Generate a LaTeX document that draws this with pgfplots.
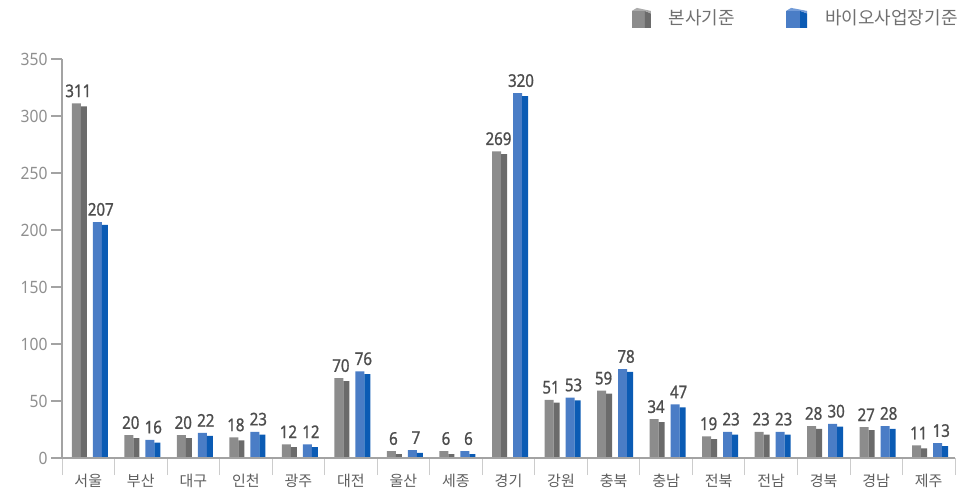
\documentclass[border=0pt]{standalone}
\usepackage{pgfplots}
\usepackage{pgfplotstable}
\pgfplotsset{compat=1.18}
\usepackage{fontspec}
\setmainfont{Noto Sans}
\newfontfamily\kr{Noto Sans CJK KR}
\newfontfamily\numf[FakeStretch=0.92]{Noto Sans}
\newfontfamily\valf[FakeStretch=0.86, FakeBold=1]{Noto Sans}

\definecolor{gfront}{HTML}{8C8C8C}
\definecolor{gside}{HTML}{6B6B6B}
\definecolor{gtop}{HTML}{ABABAB}
\definecolor{bfront}{HTML}{4A7DC6}
\definecolor{bside}{HTML}{0B5BB4}
\definecolor{btop}{HTML}{739CD8}
\definecolor{axisgray}{HTML}{A3A3A3}
\definecolor{tickgray}{HTML}{8F8F8F}
\definecolor{catgray}{HTML}{5E5E5E}
\definecolor{valgray}{HTML}{4D4D4D}
\definecolor{leggray}{HTML}{707070}

\pgfplotstableread{
x g b
0 311 207
1 20 16
2 20 22
3 18 23
4 12 12
5 70 76
6 6 7
7 6 6
8 269 320
9 51 53
10 59 78
11 34 47
12 19 23
13 23 23
14 28 30
15 27 28
16 11 13
}\datatable

\begin{document}
\begin{tikzpicture}
\path[use as bounding box] (-62pt,-33pt) rectangle (898pt,458pt);
\begin{axis}[
  at={(0pt,0pt)}, anchor=south west,
  scale only axis, width=893pt, height=399pt,
  xmin=-0.5, xmax=16.5, ymin=0, ymax=350,
  axis x line*=bottom, axis y line*=left,
  axis line style={draw=axisgray, line width=2.5pt},
  axis on top,
  clip=false,
  tick align=outside,
  ytick={0,50,...,350},
  xtick={0,...,16},
  xticklabels={서울,부산,대구,인천,광주,대전,울산,세종,경기,강원,충북,충남,전북,전남,경북,경남,제주},
  minor xtick={-0.5,0.5,...,16.5},
  major tick length=11pt,
  minor tick length=17pt,
  major x tick style={draw=none},
  minor x tick style={draw=black!20, line width=0.8pt},
  y tick style={draw=axisgray, line width=1.5pt},
  /pgf/number format/assume math mode=true,
  yticklabel style={font=\numf\fontsize{17}{17}\selectfont, text=tickgray},
  xticklabel style={font=\kr\fontsize{15}{15}\selectfont, text=catgray, yshift=-2pt},
  nodes near coords align={vertical},
  legend columns=2,
  legend style={at={(1.004,1.103)}, anchor=east, draw=none, fill=none,
    inner sep=0pt, outer sep=0pt,
    nodes={inner sep=1pt, font=\kr\fontsize{18}{18}\selectfont, text=leggray},
    /tikz/every odd column/.append style={column sep=17pt},
    /tikz/every even column/.append style={column sep=50pt}},
]
% gray series
\addplot[ybar, bar width=9pt, bar shift=-12pt, fill=gfront, draw=none,
  nodes near coords,
  every node near coord/.append style={font=\valf\fontsize{17.5}{17.5}\selectfont, text=valgray, xshift=-10pt, yshift=3pt, inner sep=3pt},
  legend image code/.code={
    \fill[gfront] (-1pt,-10pt) rectangle (12pt,7pt);
    \fill[gside] (12pt,-10pt) -- (12pt,7pt) -- (18pt,4.5pt) -- (18pt,-10pt) -- cycle;
    \fill[gtop] (-1pt,7pt) -- (4pt,10pt) -- (18pt,7pt) -- (18pt,4.5pt) -- (12pt,7pt) -- cycle;
  }]
  table[x=x, y=g] {\datatable};
\addlegendentry{본사기준}
\addplot[ybar, bar width=6pt, bar shift=-4.5pt, fill=gside, draw=none, forget plot]
  table[x=x, y expr=\thisrow{g}-2.5] {\datatable};
% blue series
\addplot[ybar, bar width=9pt, bar shift=9pt, fill=bfront, draw=none,
  nodes near coords,
  every node near coord/.append style={font=\valf\fontsize{17.5}{17.5}\selectfont, text=valgray, xshift=12.5pt, yshift=3pt, inner sep=3pt},
  legend image code/.code={
    \fill[bfront] (-1pt,-10pt) rectangle (13pt,7pt);
    \fill[bside] (13pt,-10pt) -- (13pt,7pt) -- (20pt,4.5pt) -- (20pt,-10pt) -- cycle;
    \fill[btop] (-1pt,7pt) -- (4pt,10pt) -- (20pt,7pt) -- (20pt,4.5pt) -- (13pt,7pt) -- cycle;
  }]
  table[x=x, y=b] {\datatable};
\addlegendentry{바이오사업장기준}
\addplot[ybar, bar width=6pt, bar shift=16.5pt, fill=bside, draw=none, forget plot]
  table[x=x, y expr=\thisrow{b}-2.5] {\datatable};
\end{axis}
\end{tikzpicture}
\end{document}
